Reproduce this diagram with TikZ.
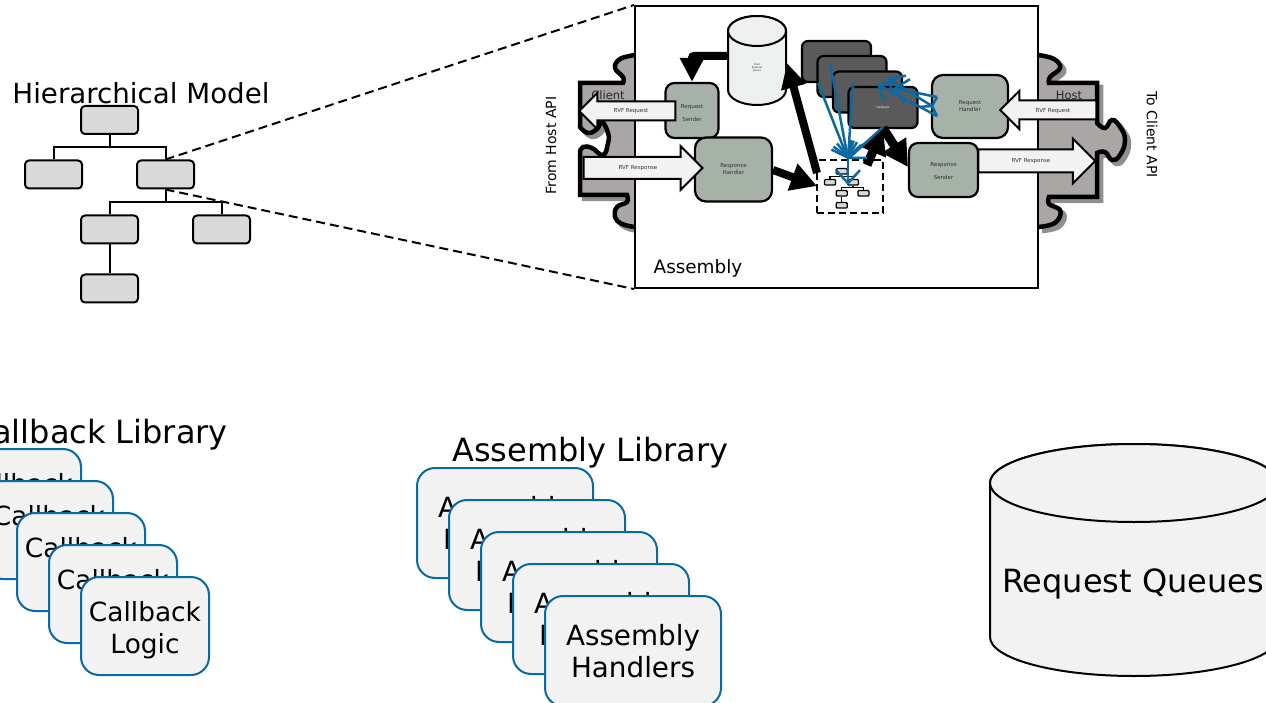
\documentclass[tikz,border=0pt]{standalone}
\usepackage{fontspec}
\setmainfont{DejaVu Sans}
\usetikzlibrary{arrows.meta,shapes.arrows}
\definecolor{blu}{HTML}{0B69A3}
\definecolor{panel}{HTML}{F2F2F2}
\definecolor{sage}{HTML}{A6B1A8}
\definecolor{dark}{HTML}{5A5A5A}
\definecolor{puzzle}{HTML}{ABA6A6}
\definecolor{shade}{HTML}{8F8F8F}
\definecolor{tnode}{HTML}{D9D9D9}
\definecolor{small}{HTML}{333333}
\definecolor{qfill}{HTML}{EEF0F0}
\tikzset{
  titletext/.style={inner sep=0pt,font=\fontsize{32}{38}\selectfont},
  cardA/.style={draw=blu,line width=2pt,fill=panel,rounded corners=18pt,minimum width=128pt,minimum height=98pt,inner sep=0pt,align=center,font=\fontsize{26.4}{32}\selectfont},
  cardB/.style={cardA,minimum width=176pt,minimum height=110pt,font=\fontsize{27.8}{32}\selectfont},
  treebox/.style={draw=black,line width=2pt,fill=tnode,rounded corners=4pt,minimum width=57pt,minimum height=28pt,inner sep=0pt},
  minibox/.style={draw=black,line width=1.3pt,fill=tnode,rounded corners=1pt,minimum width=11pt,minimum height=5.5pt,inner sep=0pt},
  tree/.style={draw=black,line width=2pt},
  minitree/.style={draw=black,line width=1.2pt},
  zoomline/.style={draw=black,line width=2pt,dash pattern=on 9pt off 5pt},
  sagebox/.style={draw=black,line width=2.2pt,fill=sage,rounded corners=9pt,inner sep=0pt,align=center,text=small,font=\fontsize{5.5}{7}\selectfont},
  darkbox/.style={draw=black,line width=2.2pt,fill=dark,rounded corners=6pt,minimum width=69pt,minimum height=41pt,inner sep=0pt,text=white,font=\fontsize{3}{4}\selectfont},
  blockarrow/.style={single arrow,draw=black,line width=2pt,fill=panel,inner xsep=0pt,single arrow head indent=0pt},
  tinylabel/.style={text=small,inner sep=0pt,font=\fontsize{5.5}{7}\selectfont},
  fat/.style={draw=black,line width=8pt,-{Triangle[length=26pt,width=27pt]}},
  bluearrow/.style={draw=blu,line width=2.5pt,-{Straight Barb[length=13pt,width=24pt,line width=2.5pt]}},
  blueline/.style={draw=blu,line width=2.5pt},
  puzzlepart/.style={fill=puzzle,draw=black,line width=4.5pt,miter limit=10},
  puzzleshade/.style={fill=shade,draw=shade,line width=4.5pt},
}
\newcommand\clientpath{plot[smooth,tension=.7] coordinates {(635,55) (620,59) (615,68) (623,77) (623,83)} -- (580,83) -- (580,127) -- plot[smooth,tension=.8] coordinates {(580,127) (588,133) (597,129) (602,122) (608,133) (608,143) (603,155) (592,148) (583,147) (580,152)} -- (580,195) -- (627,195) -- plot[smooth,tension=.7] coordinates {(627,195) (627,202) (617,207) (615,217) (622,224) (635,227)}}
\newcommand\hostpath{plot[smooth,tension=.7] coordinates {(1038,55) (1054,59) (1060,68) (1050,77) (1049,83)} -- (1097,83) -- (1097,123) -- plot[smooth,tension=.8] coordinates {(1097,123) (1105,128) (1112,120) (1120,127) (1125,140) (1120,155) (1112,160) (1105,152) (1097,153)} -- (1097,197) -- (1049,197) -- plot[smooth,tension=.7] coordinates {(1049,197) (1049,204) (1060,210) (1058,220) (1050,225) (1038,227)}}
\newcommand\cbtext{\rule{0pt}{29pt}Callback\\Logic}
\begin{document}
\begin{tikzpicture}[x=1pt,y=-1pt]
\useasboundingbox (0,0) rectangle (1266,703);
\clip (0,0) rectangle (1266,703);

% hierarchical model
\node[font=\fontsize{27.7}{32}\selectfont,inner sep=0pt] (hmtitle) at (141,93) {Hierarchical Model};
\node[treebox] (t0) at (109.5,120) {};
\node[treebox] (t1) at (53.5,174.5) {};
\node[treebox] (t2) at (165.5,174.5) {};
\node[treebox] (t3) at (109.5,229.5) {};
\node[treebox] (t4) at (221.5,229.5) {};
\node[treebox] (t5) at (109.5,288.5) {};
\coordinate (bus1) at (109.5,147);
\coordinate (bus2) at (165.5,202);
\draw[tree] (t0.south) -- (bus1);
\draw[tree] (t1.north) |- (bus1) -| (t2.north);
\draw[tree] (t2.south) -- (bus2);
\draw[tree] (t3.north) |- (bus2) -| (t4.north);
\draw[tree] (t3.south) -- (t5.north);

% puzzle pieces
\begin{scope}[shift={(4,4)}]
\path[puzzleshade] \clientpath;
\path[puzzleshade] \hostpath;
\end{scope}
\path[puzzlepart] \clientpath;
\path[puzzlepart] \hostpath;
\node[font=\fontsize{11.5}{13}\selectfont,text=black!85,inner sep=0pt] (clientlabel) at (608,95) {Client};
\node[font=\fontsize{11.5}{13}\selectfont,text=black!85,inner sep=0pt] (hostlabel) at (1069,95) {Host};

% assembly
\node[draw=black,line width=2pt,fill=white,minimum width=403pt,minimum height=282pt,inner sep=0pt] (asm) at (836.5,147) {};
\node[font=\fontsize{18.4}{22}\selectfont,inner sep=0pt] (asmlabel) at (698,268) {Assembly};
\draw[zoomline] (t2.north) -- (asm.north west);
\draw[zoomline] (t2.south) -- (asm.south west);
\node[rotate=90,font=\fontsize{14}{16}\selectfont,inner sep=0pt] (fromhost) at (551,145.5) {From Host API};
\node[rotate=-90,font=\fontsize{14}{16}\selectfont,inner sep=0pt] (toclient) at (1152,134.5) {To Client API};

% queue
\path[draw=black,line width=2pt,fill=qfill] (728,31) -- (728,90) arc[start angle=180,end angle=360,x radius=29pt,y radius=15pt] -- (786,31) arc[start angle=0,end angle=180,x radius=29pt,y radius=15pt] -- cycle;
\path[draw=black,line width=2pt,fill=qfill] (757,31) ellipse[x radius=29pt,y radius=15pt];
\node[inner sep=0pt,align=center,text=small,font=\fontsize{2.5}{3}\selectfont] (queue) at (757,68) {Host\\Request\\Queue};

% callbacks
\node[darkbox] (c1) at (836.5,61.5) {};
\node[darkbox] (c2) at (852,76.5) {};
\node[darkbox] (c3) at (867.5,92) {};
\node[darkbox] (c4) at (883,107.5) {Callback};

% sage boxes
\node[sagebox,minimum width=53pt,minimum height=55pt] (rs) at (692,110.5) {\rule{0pt}{9pt}Request\\[6pt]Sender};
\node[sagebox,minimum width=77pt,minimum height=64pt,rounded corners=11pt] (rh) at (733.5,169.5) {Response\\Handler};
\node[sagebox,minimum width=76pt,minimum height=63pt,rounded corners=11pt] (qh) at (970,106.5) {Request\\Handler};
\node[sagebox,minimum width=69pt,minimum height=54pt] (ss) at (943.5,170) {\rule{0pt}{7pt}Response\\[6pt]Sender};

% block arrows
\node[blockarrow,shape border rotate=180,inner ysep=8.5pt,minimum width=34pt,minimum height=96pt,single arrow head extend=8.5pt] (a1) at (632,111) {};
\node[blockarrow,inner ysep=10pt,minimum width=42pt,minimum height=119pt,single arrow head extend=11pt] (a2) at (637.5,168) {};
\node[blockarrow,shape border rotate=180,inner ysep=8.5pt,minimum width=36pt,minimum height=96pt,single arrow head extend=9.5pt] (a3) at (1053,110) {};
\node[blockarrow,inner ysep=10.5pt,minimum width=43pt,minimum height=117pt,single arrow head extend=11pt] (a4) at (1031,161) {};
\node[tinylabel] (a1t) at (631,111) {RVF Request};
\node[tinylabel] (a2t) at (638,168) {RVF Response};
\node[tinylabel] (a3t) at (1053,111) {RVF Request};
\node[tinylabel] (a4t) at (1031,161) {RVF Response};

% dashed box with mini tree
\node[draw=black,line width=2pt,dash pattern=on 7pt off 4pt,minimum width=66pt,minimum height=53pt,inner sep=0pt] (dbox) at (850,186.5) {};
\node[minibox] (m0) at (841.7,171.3) {};
\node[minibox] (m1) at (830,182.3) {};
\node[minibox] (m2) at (853,182.3) {};
\node[minibox] (m3) at (841.7,193.3) {};
\node[minibox] (m4) at (863.5,193.3) {};
\node[minibox] (m5) at (841.7,205.3) {};
\coordinate (mb1) at (841.7,176.8);
\coordinate (mb2) at (853,187.8);
\draw[minitree] (m0.south) -- (mb1);
\draw[minitree] (m1.north) |- (mb1) -| (m2.north);
\draw[minitree] (m2.south) -- (mb2);
\draw[minitree] (m3.north) |- (mb2) -| (m4.north);
\draw[minitree] (m3.south) -- (m5.north);

% heavy arrows
\coordinate (qout) at (727,56);
\coordinate (cbtip) at (883,128);
\coordinate (dtl) at (817,173);
\coordinate (dtr) at (867,165);
\coordinate (qtip) at (787,63);
\coordinate (dtip) at (817,186);
\coordinate (rhout) at (773,170);
\coordinate (sstip) at (908,167);
\draw[fat,rounded corners=2pt,-{Triangle[length=24pt,width=23pt]}] (qout) -| (rs.north);
\draw[fat] (rhout) -- (dtip);
\draw[fat,-{Triangle[length=25pt,width=24pt]}] (dtl) -- (qtip);
\draw[fat,line width=9pt] (dtr) -- (cbtip);
\draw[fat,line width=9pt] (cbtip) -- (sstip);

% blue arrows
\coordinate (hub) at (848,159);
\coordinate (b1) at (818,83);
\coordinate (b2) at (830,63);
\coordinate (b3) at (853,83);
\coordinate (b4) at (883,127);
\coordinate (b5) at (848,185);
\coordinate (src) at (932,106);
\coordinate (s1) at (937,97);
\coordinate (s2) at (937,116);
\coordinate (s3) at (918,107);
\coordinate (r1) at (877,84);
\coordinate (r2) at (887,78);
\coordinate (r3) at (893,88);
\draw[bluearrow] (b1) -- (hub);
\draw[bluearrow] (b2) -- (hub);
\draw[bluearrow] (b3) -- (hub);
\draw[bluearrow] (b4) -- (hub);
\draw[bluearrow] (hub) -- (b5);
\draw[bluearrow] (s2) -- (r1);
\draw[bluearrow] (src) -- (r2);
\draw[bluearrow] (s1) -- (r3);
\draw[blueline] (s1) -- (src) -- (s2);
\draw[blueline] (s3) -- (src);

% callback library
\node[anchor=east,titletext] (cbtitle) at (228,435) {Callback Library};
\node[cardA] (k1) at (17,498) {\cbtext};
\node[cardA] (k2) at (49,530) {\cbtext};
\node[cardA] (k3) at (81,562) {\cbtext};
\node[cardA] (k4) at (113,594) {\cbtext};
\node[cardA] (k5) at (145,626) {\cbtext};

% assembly library
\node[titletext] (altitle) at (590.5,453) {Assembly Library};
\node[cardB] (h1) at (505,523) {Assembly\\Handlers};
\node[cardB] (h2) at (537,555) {Assembly\\Handlers};
\node[cardB] (h3) at (569,587) {Assembly\\Handlers};
\node[cardB] (h4) at (601,619) {Assembly\\Handlers};
\node[cardB] (h5) at (633,651) {Assembly\\Handlers};

% request queues
\path[draw=black,line width=2pt,fill=panel] (990,483) -- (990,637) arc[start angle=180,end angle=360,x radius=144pt,y radius=39pt] -- (1278,483) arc[start angle=0,end angle=180,x radius=144pt,y radius=39pt] -- cycle;
\path[draw=black,line width=2pt,fill=panel] (1134,483) ellipse[x radius=144pt,y radius=39pt];
\node[titletext] (bigq) at (1133,584) {Request Queues};
\end{tikzpicture}
\end{document}
